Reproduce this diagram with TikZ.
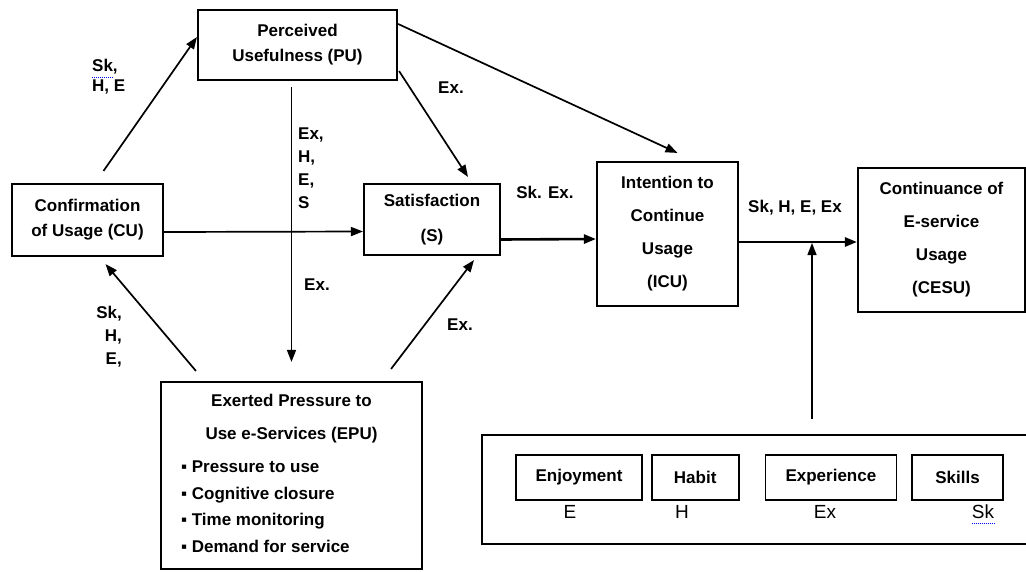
\documentclass[tikz,border=0pt]{standalone}
\usepackage{fontspec}
\setmainfont{Liberation Sans}
\usepackage{tikz}
\usetikzlibrary{arrows.meta,positioning,calc}

\tikzset{
  box/.style={draw,line width=2.1pt,align=center,inner sep=2pt,
    font=\fontsize{17}{25}\selectfont\bfseries},
  tallbox/.style={box,font=\fontsize{17}{33}\selectfont\bfseries},
  itembox/.style={draw,line width=1.7pt,inner sep=2pt,minimum height=45pt,
    font=\fontsize{17}{20}\selectfont\bfseries},
  arr/.style={line width=1.7pt,-{Triangle[length=12pt,width=9pt]}},
  mainarr/.style={arr,line width=2.6pt},
  lab/.style={inner sep=0pt,font=\fontsize{17}{23}\selectfont\bfseries},
  keylab/.style={inner sep=0pt,font=\fontsize{19}{19}\selectfont},
  spell/.style={blue,line width=1pt,densely dotted},
}

\begin{document}
\begin{tikzpicture}[x=1pt,y=-1pt]
  \useasboundingbox (0,0) rectangle (1026,571);

  % main constructs
  \node[box,minimum width=199pt,minimum height=70pt] (pu) at (297.5,45) {Perceived\\Usefulness (PU)};
  \node[box,minimum width=151pt,minimum height=72pt] (cu) at (87.5,220) {Confirmation\\of Usage (CU)};
  \node[box,font=\fontsize{17}{35}\selectfont\bfseries,
        minimum width=136pt,minimum height=71pt] (s) at (432,219.5) {Satisfaction\\(S)};
  \node[tallbox,minimum width=141pt,minimum height=144pt] (icu) at (667.5,234) {Intention to\\Continue\\Usage\\(ICU)};
  \node[tallbox,minimum width=167pt,minimum height=144pt] (cesu) at (941.5,240) {Continuance of\\E-service\\Usage\\(CESU)};

  % pressure box
  \node[box,minimum width=261pt,minimum height=187pt] (epu) at (291.5,475.5) {};
  \node[tallbox,draw=none,inner sep=0pt,below=12pt of epu.north] (eputitle) {Exerted Pressure to\\Use e-Services (EPU)};
  \node[lab,anchor=north west,align=left,font=\fontsize{17}{26.5}\selectfont\bfseries]
    (epulist) at ($(epu.north west)+(21,80)$)
    {▪ Pressure to use\\▪ Cognitive closure\\▪ Time monitoring\\▪ Demand for service};

  % moderators panel
  \node[draw,line width=2pt,anchor=north west,minimum width=570pt,minimum height=109pt] (panel) at (481,434) {};
  \node[itembox,minimum width=126pt] (enj) at (579,477.5) {Enjoyment};
  \node[itembox,minimum width=87pt,right=8pt of enj] (hab) {Habit};
  \node[itembox,minimum width=131pt,right=25pt of hab] (exp) {Experience};
  \node[itembox,minimum width=91pt,right=14pt of exp] (skl) {Skills};
  \node[keylab] (kE) at (570,512) {E};
  \node[keylab] (kH) at (682,512) {H};
  \node[keylab] (kEx) at (825,512) {Ex};
  \node[keylab] (kSk) at (983,512) {Sk};
  \draw[spell] ($(kSk.south west)+(0,4)$) -- ($(kSk.south east)+(0,4)$);

  % connectors
  \draw[arr] ($(cu.north)+(16,-12)$) -- ($(pu.west)+(0,-8)$);
  \draw[arr] ($(pu.south east)+(1,-10)$) -- ($(s.north)+(36,-6)$);
  \draw[arr] ($(pu.north east)+(0,15)$) -- ($(icu.north)+(10,-8)$);
  \draw[arr,line width=1.4pt] ($(epu.north |- pu.south)+(0,6)$) -- ($(epu.north)+(0,-19)$);
  \draw[arr] ($(cu.east)+(0,12)$) -- ($(s.west)+(0,12)$);
  \draw[arr] ($(epu.north west)+(36,-10)$) -- ($(cu.south)+(18,7)$);
  \draw[arr] ($(epu.north east)+(-32,-12)$) -- ($(s.south)+(42,4)$);
  \draw[mainarr] ($(s.east)+(0,20)$) -- ($(icu.west)+(0,5)$);
  \draw[mainarr] ($(icu.east)+(0,8)$) coordinate (hl) -- ($(cesu.west)+(0,2)$);
  \coordinate (fb) at ($(panel.north west)+(331,-15)$);
  \draw[arr,line width=1.4pt] (fb) -- ([yshift=-1pt]fb |- hl);

  % path labels
  \node[lab,anchor=west] (lsk) at (92,67) {Sk,};
  \draw[spell] ($(lsk.south west)+(0,3)$) -- ($(lsk.south east)+(-5,3)$);
  \node[lab,anchor=west] (lhe) at (92,87) {H, E};
  \node[lab,align=left,anchor=west] (lepu) at (298,168) {Ex,\\H,\\E,\\S};
  \node[lab] (lex1) at (317,285) {Ex.};
  \node[lab,align=right,anchor=east] (lcu) at (122,337) {Sk,\\H,\\E,};
  \node[lab] (lex2) at (451,88) {Ex.};
  \node[lab] (lex3) at (460,325) {Ex.};
  \node[lab] (lsat) at (545,192) {Sk. Ex.};
  \node[lab] (licu) at (795,208) {Sk, H, E, Ex};
\end{tikzpicture}
\end{document}
